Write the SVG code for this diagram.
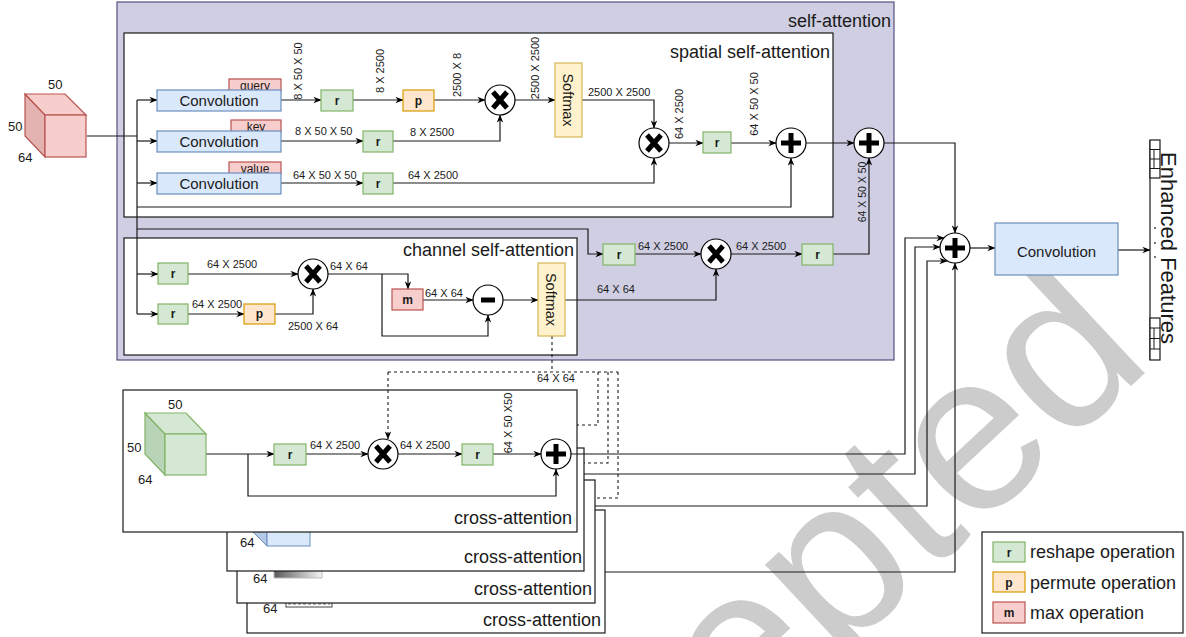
<svg xmlns="http://www.w3.org/2000/svg" width="1186" height="637" viewBox="0 0 1186 637">
<defs>
<style>
text{font-family:"Liberation Sans",Arial,sans-serif;fill:#1a1a1a}
.ln{fill:none;stroke:#1a1a1a;stroke-width:1.2}
.da{fill:none;stroke:#1a1a1a;stroke-width:1.1;stroke-dasharray:3,3}
.rb{fill:#d5e8d4;stroke:#82b366;stroke-width:1.2}
.pb{fill:#ffe6cc;stroke:#d79b00;stroke-width:1.2}
.mb{fill:#f8cecc;stroke:#b85450;stroke-width:1.2}
.cv{fill:#dae8fc;stroke:#6c8ebf;stroke-width:1.2}
.sm{fill:#fff2cc;stroke:#d6b656;stroke-width:1.2}
.box{fill:#fff;stroke:#1a1a1a;stroke-width:1.2}
.lbl{font-size:12px;font-weight:bold;text-anchor:middle}
.dim{font-size:11px}
.big{font-size:18px}
.ttl{font-size:18px;text-anchor:end}
.cube{font-size:13px}
.sym{stroke:#000;stroke-width:5;fill:none}
</style>
<marker id="ah" viewBox="0 0 10 8" refX="9.5" refY="4" markerWidth="8" markerHeight="7" markerUnits="userSpaceOnUse" orient="auto"><path d="M0,0 L10,4 L0,8 L3,4 z" fill="#000"/></marker>
<g id="mul"><circle r="15" fill="#fff" stroke="#000" stroke-width="1.2"/><path class="sym" d="M-7,-8 L7,8 M7,-8 L-7,8"/></g>
<g id="add"><circle r="15" fill="#fff" stroke="#000" stroke-width="1.2"/><path class="sym" d="M-10,0 H10 M0,-10 V10"/></g>
<g id="sub"><circle r="15" fill="#fff" stroke="#000" stroke-width="1.2"/><path class="sym" stroke-width="4" d="M-7,0 H7"/></g>
<linearGradient id="gr" x1="0" x2="1" y1="0" y2="0"><stop offset="0" stop-color="#333"/><stop offset="1" stop-color="#f4f4f4"/></linearGradient>
</defs>

<!-- watermark -->
<text transform="translate(835,662) rotate(-43)" x="-500" y="0" style="font-size:225px;fill:#cccccc">Accepted</text>

<!-- containers -->
<g id="self-attention">
<rect x="117" y="2" width="777" height="358" fill="#d0cee2" stroke="#56517e" stroke-width="1.2"/>
<text class="ttl" x="891" y="27">self-attention</text>
</g>
<g id="spatial-self-attention">
<rect class="box" x="124" y="33" width="709" height="184"/>
<text class="ttl" x="830" y="58">spatial self-attention</text>
</g>
<g id="channel-self-attention">
<rect class="box" x="124" y="238" width="453" height="117"/>
<text class="ttl" x="574" y="256">channel self-attention</text>
</g>

<!-- cross-attention stack (back to front) -->
<g id="cross-attention-4">
<rect class="box" x="247" y="510" width="358" height="123"/>
<rect x="286" y="596" width="46" height="11" fill="#fff" stroke="#444" stroke-width="1"/>
<path d="M288,604 H330" stroke="#666" stroke-dasharray="3,2" fill="none"/>
<text class="cube" x="263" y="613">64</text>
<text class="big" x="601" y="626" text-anchor="end">cross-attention</text>
</g>
<g id="cross-attention-3">
<rect class="box" x="237" y="480" width="358" height="123"/>
<path d="M262,560 L274,572 L274,578 H322 V560 Z" fill="url(#gr)" stroke="#bbb" stroke-width="1"/>
<text class="cube" x="253" y="583">64</text>
<text class="big" x="592" y="595" text-anchor="end">cross-attention</text>
</g>
<g id="cross-attention-2">
<rect class="box" x="227" y="448" width="357" height="123"/>
<path d="M246,500 L267,521 V546 L246,525 Z" fill="#b5c9e6" stroke="#6c8ebf" stroke-width="1"/>
<rect x="267" y="500" width="43" height="46" fill="#dae8fc" stroke="#6c8ebf" stroke-width="1"/>
<text class="cube" x="240" y="547">64</text>
<text class="big" x="582" y="563" text-anchor="end">cross-attention</text>
</g>
<g id="cross-attention-1">
<rect class="box" x="123" y="390" width="454" height="142"/>
<text class="big" x="572" y="524" text-anchor="end">cross-attention</text>
</g>

<!-- connectors -->
<g id="connectors">
<path class="ln" d="M87,136 H137 M137,100 V314"/>
<path class="ln" marker-end="url(#ah)" d="M137,100 H157"/>
<path class="ln" marker-end="url(#ah)" d="M137,141 H157"/>
<path class="ln" marker-end="url(#ah)" d="M137,183 H157"/>
<path class="ln" marker-end="url(#ah)" d="M137,207 H791 V158"/>
<path class="ln" marker-end="url(#ah)" d="M137,229 H588 V254 H603"/>
<path class="ln" marker-end="url(#ah)" d="M137,274 H158"/>
<path class="ln" marker-end="url(#ah)" d="M137,314 H158"/>
<path class="ln" marker-end="url(#ah)" d="M281,100 H321"/>
<path class="ln" marker-end="url(#ah)" d="M353,100 H403"/>
<path class="ln" marker-end="url(#ah)" d="M434,100 H485"/>
<path class="ln" marker-end="url(#ah)" d="M515,100 H555"/>
<path class="ln" marker-end="url(#ah)" d="M281,141 H363"/>
<path class="ln" marker-end="url(#ah)" d="M393,141 H500 V115"/>
<path class="ln" marker-end="url(#ah)" d="M281,183 H363"/>
<path class="ln" marker-end="url(#ah)" d="M393,183 H654 V158"/>
<path class="ln" marker-end="url(#ah)" d="M582,100 H654 V128"/>
<path class="ln" marker-end="url(#ah)" d="M669,143 H703"/>
<path class="ln" marker-end="url(#ah)" d="M731,143 H776"/>
<path class="ln" marker-end="url(#ah)" d="M806,143 H854"/>
<path class="ln" marker-end="url(#ah)" d="M884,143 H955 V233"/>
<path class="ln" marker-end="url(#ah)" d="M188,274 H298"/>
<path class="ln" marker-end="url(#ah)" d="M188,314 H244"/>
<path class="ln" marker-end="url(#ah)" d="M275,314 H313 V289"/>
<path class="ln" marker-end="url(#ah)" d="M328,274 H408 V289"/>
<path class="ln" marker-end="url(#ah)" d="M382,274 V336 H488 V315"/>
<path class="ln" marker-end="url(#ah)" d="M423,300 H473"/>
<path class="ln" marker-end="url(#ah)" d="M503,300 H538"/>
<path class="ln" marker-end="url(#ah)" d="M565,300 H716 V269"/>
<path class="ln" marker-end="url(#ah)" d="M635,254 H701"/>
<path class="ln" marker-end="url(#ah)" d="M731,254 H802"/>
<path class="ln" marker-end="url(#ah)" d="M833,254 H869 V158"/>
<path class="da" d="M552,336 V372 M388,372 H618"/>
<path class="da" marker-end="url(#ah)" d="M388,372 V439"/>
<path class="da" d="M598,372 V425 H577 M608,372 V463 H584 M618,372 V498 H595"/>
<path class="ln" marker-end="url(#ah)" d="M206,454 H274"/>
<path class="ln" marker-end="url(#ah)" d="M248,454 V496 H556 V469"/>
<path class="ln" marker-end="url(#ah)" d="M306,454 H368"/>
<path class="ln" marker-end="url(#ah)" d="M398,454 H462"/>
<path class="ln" marker-end="url(#ah)" d="M493,454 H541"/>
<path class="ln" marker-end="url(#ah)" d="M571,454 H905 V238 H944"/>
<path class="ln" marker-end="url(#ah)" d="M584,474 H915 V247 H940"/>
<path class="ln" marker-end="url(#ah)" d="M595,506 H927 V261 H947"/>
<path class="ln" marker-end="url(#ah)" d="M605,572 H955 V263"/>
<path class="ln" marker-end="url(#ah)" d="M970,248 H995"/>
<path class="ln" marker-end="url(#ah)" d="M1118,250 H1150"/>
</g>

<g id="dims" class="dim">
<text transform="translate(302,71) rotate(-90)" text-anchor="middle">8 X 50 X 50</text>
<text transform="translate(384,71) rotate(-90)" text-anchor="middle">8 X 2500</text>
<text transform="translate(461,75) rotate(-90)" text-anchor="middle">2500 X 8</text>
<text transform="translate(539,68) rotate(-90)" text-anchor="middle">2500 X 2500</text>
<text x="295" y="135">8 X 50 X 50</text>
<text x="410" y="136">8 X 2500</text>
<text x="293" y="179">64 X 50 X 50</text>
<text x="408" y="179">64 X 2500</text>
<text x="588" y="96">2500 X 2500</text>
<text transform="translate(683,114) rotate(-90)" text-anchor="middle">64 X 2500</text>
<text transform="translate(758,104) rotate(-90)" text-anchor="middle">64 X 50 X 50</text>
<text transform="translate(866,192) rotate(-90)" text-anchor="middle" font-size="10.5">64 X 50 X 50</text>
<text x="207" y="268">64 X 2500</text>
<text x="192" y="308">64 X 2500</text>
<text x="288" y="330">2500 X 64</text>
<text x="330" y="270">64 X 64</text>
<text x="425" y="297">64 X 64</text>
<text x="597" y="293">64 X 64</text>
<text x="638" y="250">64 X 2500</text>
<text x="736" y="250">64 X 2500</text>
<text x="537" y="382">64 X 64</text>
<text x="310" y="449">64 X 2500</text>
<text x="400" y="449">64 X 2500</text>
<text transform="translate(512,423) rotate(-90)" text-anchor="middle">64 X 50 X50</text>
</g>

<g id="input-cube">
<path d="M25,94 L45,115 V157 L25,136 Z" fill="#e3b3b1" stroke="#b85450" stroke-width="1.2"/>
<path d="M25,94 H65 L86,115 H45 Z" fill="#f8cecc" stroke="#b85450" stroke-width="1.2"/>
<rect x="45" y="115" width="41" height="42" fill="#f8cecc" stroke="#b85450" stroke-width="1.2"/>
<text class="cube" x="48" y="89">50</text>
<text class="cube" x="8" y="131">50</text>
<text class="cube" x="18" y="162">64</text>
</g>

<g id="label-query"><rect class="mb" x="229" y="79" width="52" height="12"/><text x="255" y="90" text-anchor="middle" font-size="12">query</text></g>
<g id="label-key"><rect class="mb" x="231" y="120" width="50" height="12"/><text x="256" y="131" text-anchor="middle" font-size="12">key</text></g>
<g id="label-value"><rect class="mb" x="229" y="162" width="52" height="12"/><text x="255" y="173" text-anchor="middle" font-size="12">value</text></g>
<g id="conv-query"><rect class="cv" x="157" y="90" width="124" height="21"/><text x="219" y="106" text-anchor="middle" font-size="15">Convolution</text></g>
<g id="conv-key"><rect class="cv" x="157" y="131" width="124" height="21"/><text x="219" y="147" text-anchor="middle" font-size="15">Convolution</text></g>
<g id="conv-value"><rect class="cv" x="157" y="173" width="124" height="21"/><text x="219" y="189" text-anchor="middle" font-size="15">Convolution</text></g>
<g id="sp-r1"><rect class="rb" x="321" y="90" width="32" height="21"/><text class="lbl" x="337" y="105">r</text></g>
<g id="sp-p"><rect class="pb" x="403" y="90" width="31" height="21"/><text class="lbl" x="418.5" y="105">p</text></g>
<g id="sp-r2"><rect class="rb" x="363" y="131" width="30" height="21"/><text class="lbl" x="378" y="146">r</text></g>
<g id="sp-r3"><rect class="rb" x="363" y="173" width="30" height="21"/><text class="lbl" x="378" y="188">r</text></g>
<g id="sp-x1"><use href="#mul" x="500" y="100"/></g>
<g id="sp-softmax"><rect class="sm" x="555" y="63" width="27" height="74"/><text transform="translate(563,100) rotate(90)" text-anchor="middle" font-size="14.5">Softmax</text></g>
<g id="sp-x2"><use href="#mul" x="654" y="143"/></g>
<g id="sp-r4"><rect class="rb" x="703" y="132" width="28" height="21"/><text class="lbl" x="717" y="147">r</text></g>
<g id="sp-add"><use href="#add" x="791" y="143"/></g>
<g id="sa-add"><use href="#add" x="869" y="143"/></g>

<g id="ch-r1"><rect class="rb" x="158" y="263" width="30" height="21"/><text class="lbl" x="173" y="278">r</text></g>
<g id="ch-r2"><rect class="rb" x="158" y="304" width="30" height="20"/><text class="lbl" x="173" y="318">r</text></g>
<g id="ch-p"><rect class="pb" x="244" y="304" width="31" height="20"/><text class="lbl" x="259.5" y="318">p</text></g>
<g id="ch-x1"><use href="#mul" x="313" y="274"/></g>
<g id="ch-m"><rect class="mb" x="392" y="289" width="31" height="21"/><text class="lbl" x="407.5" y="304">m</text></g>
<g id="ch-sub"><use href="#sub" x="488" y="300"/></g>
<g id="ch-softmax"><rect class="sm" x="538" y="263" width="27" height="73"/><text transform="translate(546,299.5) rotate(90)" text-anchor="middle" font-size="14.5">Softmax</text></g>
<g id="ch-r3"><rect class="rb" x="603" y="244" width="32" height="21"/><text class="lbl" x="619" y="259">r</text></g>
<g id="ch-x2"><use href="#mul" x="716" y="254"/></g>
<g id="ch-r4"><rect class="rb" x="802" y="244" width="31" height="21"/><text class="lbl" x="817.5" y="259">r</text></g>

<g id="ca-cube">
<path d="M145,413 L165,434 V475 L145,454 Z" fill="#b9d3b7" stroke="#82b366" stroke-width="1.2"/>
<path d="M145,413 H186 L206,434 H165 Z" fill="#d5e8d4" stroke="#82b366" stroke-width="1.2"/>
<rect x="165" y="434" width="41" height="41" fill="#d5e8d4" stroke="#82b366" stroke-width="1.2"/>
<text class="cube" x="168" y="409">50</text>
<text class="cube" x="127" y="452">50</text>
<text class="cube" x="138" y="484">64</text>
</g>
<g id="ca-r1"><rect class="rb" x="274" y="444" width="32" height="21"/><text class="lbl" x="290" y="459">r</text></g>
<g id="ca-x"><use href="#mul" x="383" y="454"/></g>
<g id="ca-r2"><rect class="rb" x="462" y="444" width="31" height="21"/><text class="lbl" x="477.5" y="459">r</text></g>
<g id="ca-add"><use href="#add" x="556" y="454"/></g>

<g id="final-add"><use href="#add" x="955" y="248"/></g>
<g id="final-conv"><rect class="cv" x="995" y="223" width="123" height="52"/><text x="1056.5" y="257" text-anchor="middle" font-size="15">Convolution</text></g>
<g id="enhanced-features">
<path d="M1150,140 V360" stroke="#1a1a1a" stroke-width="1.2" fill="none"/>
<rect x="1150" y="140" width="10" height="38" fill="#fff" stroke="#1a1a1a" stroke-width="1.2"/>
<path d="M1150,149.5 H1160 M1150,159 H1160 M1150,168.5 H1160 M1154,149.5 V168.5" stroke="#1a1a1a" stroke-width="1" fill="none"/>
<rect x="1150" y="318" width="10" height="42" fill="#fff" stroke="#1a1a1a" stroke-width="1.2"/>
<path d="M1150,328 H1160 M1150,338.5 H1160 M1150,349 H1160 M1154,328 V349" stroke="#1a1a1a" stroke-width="1" fill="none"/>
<circle cx="1155" cy="228" r="0.9" fill="#333"/><circle cx="1155" cy="243" r="0.9" fill="#333"/><circle cx="1155" cy="257" r="0.9" fill="#333"/>
<text transform="translate(1161,248) rotate(90)" text-anchor="middle" font-size="22">Enhanced Features</text>
</g>

<g id="legend">
<rect class="box" x="982" y="532" width="201" height="101"/>
<rect class="rb" x="993" y="542" width="32" height="20"/><text class="lbl" x="1009" y="557">r</text>
<text class="big" x="1030" y="558">reshape operation</text>
<rect class="pb" x="993" y="572" width="32" height="20"/><text class="lbl" x="1009" y="587">p</text>
<text class="big" x="1030" y="589">permute operation</text>
<rect class="mb" x="993" y="602" width="32" height="21"/><text class="lbl" x="1009" y="617">m</text>
<text class="big" x="1030" y="619">max operation</text>
</g>
</svg>
